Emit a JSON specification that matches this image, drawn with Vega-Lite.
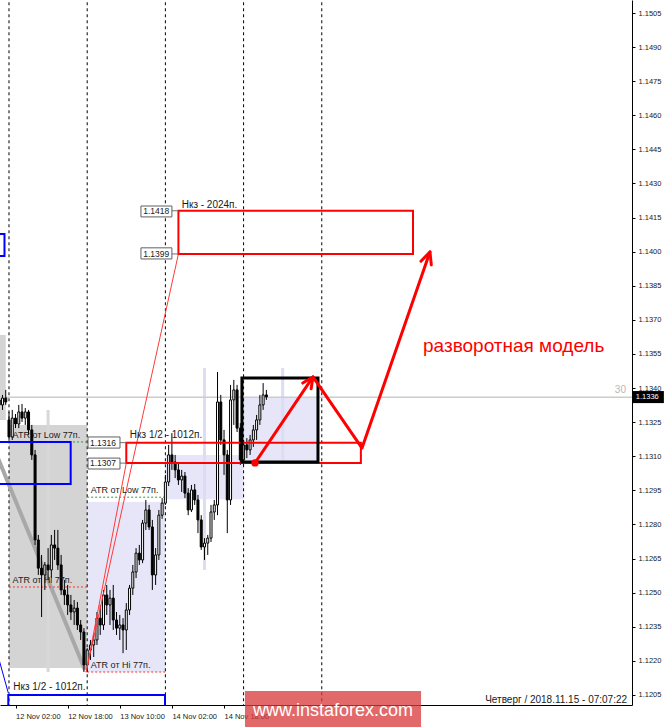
{
"$schema": "https://vega.github.io/schema/vega-lite/v6.json",
"width": 632, "height": 705, "autosize": {"type": "none"}, "padding": {"left": 0, "top": 0, "right": 33, "bottom": 22},
"background": "white",
"config": {"view": {"stroke": null}, "font": "Liberation Sans"},
"datasets": {
"candles": [
{"t":"2018-11-11T21:00Z","o":1.13348,"h":1.13383,"l":1.13295,"c":1.13326},
{"t":"2018-11-11T22:00Z","o":1.13326,"h":1.1337,"l":1.13304,"c":1.13356},
{"t":"2018-11-11T23:00Z","o":1.13356,"h":1.13392,"l":1.13326,"c":1.13339},
{"t":"2018-11-12T00:00Z","o":1.1326,"h":1.13295,"l":1.13172,"c":1.13185},
{"t":"2018-11-12T01:00Z","o":1.13185,"h":1.13304,"l":1.13172,"c":1.13268},
{"t":"2018-11-12T02:00Z","o":1.13268,"h":1.13286,"l":1.13224,"c":1.13242},
{"t":"2018-11-12T03:00Z","o":1.13242,"h":1.13326,"l":1.13224,"c":1.13295},
{"t":"2018-11-12T04:00Z","o":1.13295,"h":1.1333,"l":1.13251,"c":1.13268},
{"t":"2018-11-12T05:00Z","o":1.13268,"h":1.13312,"l":1.13238,"c":1.13295},
{"t":"2018-11-12T06:00Z","o":1.13295,"h":1.13304,"l":1.13194,"c":1.13216},
{"t":"2018-11-12T07:00Z","o":1.13216,"h":1.13238,"l":1.13084,"c":1.13106},
{"t":"2018-11-12T08:00Z","o":1.13106,"h":1.13128,"l":1.1271,"c":1.12732},
{"t":"2018-11-12T09:00Z","o":1.12732,"h":1.12754,"l":1.12578,"c":1.12608},
{"t":"2018-11-12T10:00Z","o":1.12608,"h":1.12666,"l":1.12393,"c":1.12578},
{"t":"2018-11-12T11:00Z","o":1.12578,"h":1.12635,"l":1.12512,"c":1.12622},
{"t":"2018-11-12T12:00Z","o":1.12622,"h":1.12696,"l":1.12556,"c":1.126},
{"t":"2018-11-12T13:00Z","o":1.126,"h":1.12754,"l":1.12564,"c":1.1271},
{"t":"2018-11-12T14:00Z","o":1.1271,"h":1.12776,"l":1.12644,"c":1.12696},
{"t":"2018-11-12T15:00Z","o":1.12696,"h":1.12776,"l":1.126,"c":1.12622},
{"t":"2018-11-12T16:00Z","o":1.12622,"h":1.12666,"l":1.1249,"c":1.12512},
{"t":"2018-11-12T17:00Z","o":1.12512,"h":1.12556,"l":1.12446,"c":1.1249},
{"t":"2018-11-12T18:00Z","o":1.1249,"h":1.12534,"l":1.12402,"c":1.12446},
{"t":"2018-11-12T19:00Z","o":1.12446,"h":1.1249,"l":1.1238,"c":1.12415},
{"t":"2018-11-12T20:00Z","o":1.12415,"h":1.12468,"l":1.12358,"c":1.12432},
{"t":"2018-11-12T21:00Z","o":1.12432,"h":1.12459,"l":1.12336,"c":1.12358},
{"t":"2018-11-12T22:00Z","o":1.12358,"h":1.1238,"l":1.12292,"c":1.12327},
{"t":"2018-11-12T23:00Z","o":1.12327,"h":1.12344,"l":1.12151,"c":1.12182},
{"t":"2018-11-13T00:00Z","o":1.12182,"h":1.12256,"l":1.12151,"c":1.12248},
{"t":"2018-11-13T01:00Z","o":1.12248,"h":1.12292,"l":1.12204,"c":1.1227},
{"t":"2018-11-13T02:00Z","o":1.1227,"h":1.12314,"l":1.12217,"c":1.12292},
{"t":"2018-11-13T03:00Z","o":1.12292,"h":1.12415,"l":1.1227,"c":1.12388},
{"t":"2018-11-13T04:00Z","o":1.12388,"h":1.12446,"l":1.12314,"c":1.12358},
{"t":"2018-11-13T05:00Z","o":1.12358,"h":1.12512,"l":1.12336,"c":1.1249},
{"t":"2018-11-13T06:00Z","o":1.1249,"h":1.12534,"l":1.12402,"c":1.12446},
{"t":"2018-11-13T07:00Z","o":1.12446,"h":1.12512,"l":1.12358,"c":1.12476},
{"t":"2018-11-13T08:00Z","o":1.12476,"h":1.12534,"l":1.12336,"c":1.1238},
{"t":"2018-11-13T09:00Z","o":1.1238,"h":1.12415,"l":1.12314,"c":1.12344},
{"t":"2018-11-13T10:00Z","o":1.12344,"h":1.12402,"l":1.12292,"c":1.12358},
{"t":"2018-11-13T11:00Z","o":1.12358,"h":1.12388,"l":1.12234,"c":1.12336},
{"t":"2018-11-13T12:00Z","o":1.12336,"h":1.12454,"l":1.12248,"c":1.12424},
{"t":"2018-11-13T13:00Z","o":1.12424,"h":1.12534,"l":1.12402,"c":1.1252},
{"t":"2018-11-13T14:00Z","o":1.1252,"h":1.12622,"l":1.1249,"c":1.12591},
{"t":"2018-11-13T15:00Z","o":1.12591,"h":1.12696,"l":1.12564,"c":1.12674},
{"t":"2018-11-13T16:00Z","o":1.12674,"h":1.1271,"l":1.12622,"c":1.12644},
{"t":"2018-11-13T17:00Z","o":1.12644,"h":1.1282,"l":1.1263,"c":1.12806},
{"t":"2018-11-13T18:00Z","o":1.12806,"h":1.12908,"l":1.12776,"c":1.12864},
{"t":"2018-11-13T19:00Z","o":1.12864,"h":1.12886,"l":1.12776,"c":1.12789},
{"t":"2018-11-13T20:00Z","o":1.12789,"h":1.1282,"l":1.12512,"c":1.12578},
{"t":"2018-11-13T21:00Z","o":1.12578,"h":1.12696,"l":1.12534,"c":1.12666},
{"t":"2018-11-13T22:00Z","o":1.12666,"h":1.12864,"l":1.12644,"c":1.12841},
{"t":"2018-11-13T23:00Z","o":1.12841,"h":1.12916,"l":1.12825,"c":1.12894},
{"t":"2018-11-14T00:00Z","o":1.12894,"h":1.13018,"l":1.12886,"c":1.12987},
{"t":"2018-11-14T01:00Z","o":1.12987,"h":1.1315,"l":1.12969,"c":1.13106},
{"t":"2018-11-14T02:00Z","o":1.13106,"h":1.13202,"l":1.1304,"c":1.13075},
{"t":"2018-11-14T03:00Z","o":1.13075,"h":1.13106,"l":1.13004,"c":1.1304},
{"t":"2018-11-14T04:00Z","o":1.1304,"h":1.13075,"l":1.12974,"c":1.12996},
{"t":"2018-11-14T05:00Z","o":1.12996,"h":1.1304,"l":1.12943,"c":1.13013},
{"t":"2018-11-14T06:00Z","o":1.13013,"h":1.13031,"l":1.12916,"c":1.12938},
{"t":"2018-11-14T07:00Z","o":1.12938,"h":1.1296,"l":1.12841,"c":1.12864},
{"t":"2018-11-14T08:00Z","o":1.12864,"h":1.12974,"l":1.12855,"c":1.12952},
{"t":"2018-11-14T09:00Z","o":1.12952,"h":1.12978,"l":1.12886,"c":1.12908},
{"t":"2018-11-14T10:00Z","o":1.12908,"h":1.1293,"l":1.12762,"c":1.1282},
{"t":"2018-11-14T11:00Z","o":1.1282,"h":1.12841,"l":1.12688,"c":1.12701},
{"t":"2018-11-14T12:00Z","o":1.12701,"h":1.1274,"l":1.12644,"c":1.12718},
{"t":"2018-11-14T13:00Z","o":1.12718,"h":1.12754,"l":1.12666,"c":1.1274},
{"t":"2018-11-14T14:00Z","o":1.1274,"h":1.12886,"l":1.12723,"c":1.12855},
{"t":"2018-11-14T15:00Z","o":1.12855,"h":1.12908,"l":1.1282,"c":1.12886},
{"t":"2018-11-14T16:00Z","o":1.12886,"h":1.13471,"l":1.12841,"c":1.13339},
{"t":"2018-11-14T17:00Z","o":1.13339,"h":1.1337,"l":1.1315,"c":1.13172},
{"t":"2018-11-14T18:00Z","o":1.13172,"h":1.13216,"l":1.13018,"c":1.13106},
{"t":"2018-11-14T19:00Z","o":1.13106,"h":1.13128,"l":1.12762,"c":1.12908},
{"t":"2018-11-14T20:00Z","o":1.12908,"h":1.13414,"l":1.12886,"c":1.13348},
{"t":"2018-11-14T21:00Z","o":1.13348,"h":1.13436,"l":1.13238,"c":1.13392},
{"t":"2018-11-14T22:00Z","o":1.13392,"h":1.13414,"l":1.13207,"c":1.13224},
{"t":"2018-11-14T23:00Z","o":1.13224,"h":1.13246,"l":1.13062,"c":1.13084},
{"t":"2018-11-15T00:00Z","o":1.13084,"h":1.13172,"l":1.13062,"c":1.1315},
{"t":"2018-11-15T01:00Z","o":1.1315,"h":1.1318,"l":1.13092,"c":1.13128},
{"t":"2018-11-15T02:00Z","o":1.13128,"h":1.13194,"l":1.13106,"c":1.13172},
{"t":"2018-11-15T03:00Z","o":1.13172,"h":1.13238,"l":1.13141,"c":1.13216},
{"t":"2018-11-15T04:00Z","o":1.13216,"h":1.13282,"l":1.13172,"c":1.1326},
{"t":"2018-11-15T05:00Z","o":1.1326,"h":1.1337,"l":1.13238,"c":1.13326},
{"t":"2018-11-15T06:00Z","o":1.13326,"h":1.13422,"l":1.13304,"c":1.1337},
{"t":"2018-11-15T07:00Z","o":1.1337,"h":1.13392,"l":1.13348,"c":1.13361}
],
"gray": [
{"t":"2018-11-11T06:00Z","t2":"2018-11-11T23:00Z","p":1.13634,"p2":1.1326},
{"t":"2018-11-12T00:00Z","t2":"2018-11-13T00:00Z","p":1.13238,"p2":1.12169}
],
"lav": [
{"t":"2018-11-13T00:00Z","t2":"2018-11-14T00:00Z","p":1.12899,"p2":1.12151},
{"t":"2018-11-14T00:00Z","t2":"2018-11-15T00:00Z","p":1.13106,"p2":1.12911},
{"t":"2018-11-15T00:00Z","t2":"2018-11-15T22:30Z","p":1.13356,"p2":1.13075}
],
"grayBand": [{"t":"2018-11-12T12:00Z","p":1.13304,"p2":1.12151}],
"lavBand": [
{"t":"2018-11-14T12:00Z","p":1.13488,"p2":1.126},
{"t":"2018-11-15T12:00Z","p":1.13488,"p2":1.13075}
],
"bid": [{"t":"2018-11-11T20:00Z","t2":"2018-11-20T00:00Z","p":1.1336}],
"days": [
{"t":"2018-11-12T00:00Z","p":1.1515,"p2":1.1195},
{"t":"2018-11-13T00:00Z","p":1.1515,"p2":1.1195},
{"t":"2018-11-14T00:00Z","p":1.1515,"p2":1.1195},
{"t":"2018-11-15T00:00Z","p":1.1515,"p2":1.1195},
{"t":"2018-11-16T00:00Z","p":1.1515,"p2":1.1195}
],
"trend": [{"t":"2018-11-11T12:02Z","p":1.13392},{"t":"2018-11-12T23:20Z","p":1.1216}],
"atrLow": [
{"t":"2018-11-12T00:00Z","t2":"2018-11-13T00:00Z","p":1.13163},
{"t":"2018-11-13T00:00Z","t2":"2018-11-14T00:00Z","p":1.1292}
],
"atrHi": [
{"t":"2018-11-12T00:00Z","t2":"2018-11-13T00:00Z","p":1.12525},
{"t":"2018-11-13T00:00Z","t2":"2018-11-14T00:00Z","p":1.12151}
],
"blue": [
{"t":"2018-11-11T06:00Z","t2":"2018-11-11T22:37Z","p":1.14078,"p2":1.13981},
{"t":"2018-11-11T06:00Z","t2":"2018-11-12T18:56Z","p":1.13163,"p2":1.12978},
{"t":"2018-11-11T23:47Z","t2":"2018-11-13T23:53Z","p":1.1205,"p2":1.119}
],
"blueDiag": [{"t":"2018-11-11T18:10Z","p":1.12349},{"t":"2018-11-11T23:47Z","p":1.12059}],
"redThin": [
{"id":"a","t":"2018-11-12T23:40Z","p":1.1215},{"id":"a","t":"2018-11-14T04:00Z","p":1.1399},
{"id":"b","t":"2018-11-12T23:40Z","p":1.1215},{"id":"b","t":"2018-11-13T12:00Z","p":1.1307}
],
"red": [
{"t":"2018-11-13T12:00Z","t2":"2018-11-16T12:00Z","p":1.1316,"p2":1.1307},
{"t":"2018-11-14T04:00Z","t2":"2018-11-17T04:00Z","p":1.1418,"p2":1.1399}
],
"conn": [
{"t":"2018-11-13T10:04Z","t2":"2018-11-13T12:00Z","p":1.1316},
{"t":"2018-11-13T10:04Z","t2":"2018-11-13T12:00Z","p":1.1307},
{"t":"2018-11-14T02:00Z","t2":"2018-11-14T04:00Z","p":1.1418},
{"t":"2018-11-14T02:00Z","t2":"2018-11-14T04:00Z","p":1.1399}
],
"plBox": [
{"t":"2018-11-13T00:15Z","t2":"2018-11-13T10:04Z","p":1.13185,"p2":1.13136},
{"t":"2018-11-13T00:15Z","t2":"2018-11-13T10:04Z","p":1.13092,"p2":1.13044},
{"t":"2018-11-13T16:30Z","t2":"2018-11-14T02:00Z","p":1.14201,"p2":1.14153},
{"t":"2018-11-13T16:30Z","t2":"2018-11-14T02:00Z","p":1.14017,"p2":1.13968}
],
"plText": [
{"t":"2018-11-13T00:52Z","p":1.1316,"label":"1.1316"},
{"t":"2018-11-13T00:52Z","p":1.1307,"label":"1.1307"},
{"t":"2018-11-13T17:12Z","p":1.1418,"label":"1.1418"},
{"t":"2018-11-13T17:12Z","p":1.1399,"label":"1.1399"}
],
"blackBox": [{"t":"2018-11-14T23:30Z","t2":"2018-11-15T22:50Z","p":1.13444,"p2":1.13075}],
"arrows": [
{"id":"m","k":1,"t":"2018-11-15T03:30Z","p":1.13071},
{"id":"m","k":2,"t":"2018-11-15T21:18Z","p":1.13449},
{"id":"m","k":3,"t":"2018-11-16T12:21Z","p":1.13136},
{"id":"m","k":4,"t":"2018-11-17T09:12Z","p":1.13999},
{"id":"h1","k":1,"t":"2018-11-15T18:09Z","p":1.13422},
{"id":"h1","k":2,"t":"2018-11-15T21:18Z","p":1.13449},
{"id":"h1","k":3,"t":"2018-11-15T20:44Z","p":1.13397},
{"id":"h2","k":1,"t":"2018-11-17T06:26Z","p":1.13958},
{"id":"h2","k":2,"t":"2018-11-17T09:12Z","p":1.13999},
{"id":"h2","k":3,"t":"2018-11-17T09:37Z","p":1.13942}
],
"dot": [{"t":"2018-11-15T03:30Z","p":1.13071}],
"atrTexts": [
{"t":"2018-11-12T01:06Z","p":1.1318,"label":"ATR от Low 77п."},
{"t":"2018-11-12T01:06Z","p":1.12543,"label":"ATR от Hi 77п."},
{"t":"2018-11-13T01:06Z","p":1.12939,"label":"ATR от Low 77п."},
{"t":"2018-11-13T01:06Z","p":1.12169,"label":"ATR от Hi 77п."}
],
"nkzTexts": [
{"t":"2018-11-13T13:06Z","p":1.1318,"label":"Нкз 1/2 - 1012п."},
{"t":"2018-11-12T01:18Z","p":1.12072,"label":"Нкз 1/2 - 1012п."},
{"t":"2018-11-14T05:00Z","p":1.14192,"label":"Нкз - 2024п."}
],
"title": [{"t":"2018-11-17T07:04Z","p":1.13559,"label":"разворотная модель"}],
"stamp": [{"t":"2018-11-19T21:42Z","p":1.12015,"label":"Четверг / 2018.11.15 - 07:07:22"}],
"thirty": [{"t":"2018-11-19T21:22Z","p":1.13378,"label":"30"}],
"bidTag": [{"t":"2018-11-19T23:30Z","t2":"2018-11-20T09:00Z","p":1.13387,"p2":1.13334}],
"bidTagText": [{"t":"2018-11-20T00:24Z","p":1.1336,"label":"1.1336"}],
"wm": [{"t":"2018-11-15T00:26Z","t2":"2018-11-17T06:28Z","p":1.12068,"p2":1.11909}],
"wmText": [{"t":"2018-11-16T03:27Z","p":1.1198,"label":"www.instaforex.com"}]
},
"encoding": {
"x": {"field": "t", "type": "temporal",
  "scale": {"type": "utc", "nice": false, "padding": 0, "domain": [{"year": 2018, "month": 11, "date": 11, "hours": 21, "minutes": 14, "seconds": 17, "utc": true}, {"year": 2018, "month": 11, "date": 19, "hours": 23, "minutes": 13, "utc": true}]},
  "axis": {"orient": "bottom", "title": null, "grid": false,
    "values": [
      {"year": 2018, "month": 11, "date": 12, "hours": 2, "utc": true},
      {"year": 2018, "month": 11, "date": 12, "hours": 18, "utc": true},
      {"year": 2018, "month": 11, "date": 13, "hours": 10, "utc": true},
      {"year": 2018, "month": 11, "date": 14, "hours": 2, "utc": true},
      {"year": 2018, "month": 11, "date": 14, "hours": 18, "utc": true}],
    "format": "%-d %b %H:%M", "labelAlign": "left", "labelBaseline": "top", "labelFont": "Liberation Sans", "labelFontSize": 7.5, "labelColor": "#202020",
    "tickSize": 3, "tickColor": "#000000", "domainColor": "#000000", "labelPadding": 4, "labelFlush": false, "labelOverlap": false}},
"y": {"field": "p", "type": "quantitative",
  "scale": {"domain": [1.120059, 1.151072], "nice": false, "zero": false, "padding": 0},
  "axis": {"orient": "right", "title": null, "grid": false,
    "values": [1.1205, 1.122, 1.1235, 1.125, 1.1265, 1.128, 1.1295, 1.131, 1.1325, 1.134, 1.1355, 1.137, 1.1385, 1.14, 1.1415, 1.143, 1.1445, 1.146, 1.1475, 1.149, 1.1505],
    "format": ".4f", "labelFont": "Liberation Sans", "labelFontSize": 7.5, "labelColor": "#202020",
    "tickSize": 3, "tickColor": "#000000", "domainColor": "#000000", "labelPadding": 3, "labelFlush": false, "labelOverlap": false}}
},
"layer": [
{"data": {"name": "gray"}, "mark": {"type": "rect", "fill": "#d4d4d4", "clip": true}, "encoding": {"x2": {"field": "t2"}, "y2": {"field": "p2"}}},
{"data": {"name": "lav"}, "mark": {"type": "rect", "fill": "#e6e6f8", "clip": true}, "encoding": {"x2": {"field": "t2"}, "y2": {"field": "p2"}}},
{"data": {"name": "grayBand"}, "mark": {"type": "rule", "color": "#d8d8d8", "strokeWidth": 3}, "encoding": {"y2": {"field": "p2"}}},
{"data": {"name": "lavBand"}, "mark": {"type": "rule", "color": "#dcdcf4", "strokeWidth": 3}, "encoding": {"y2": {"field": "p2"}}},
{"data": {"name": "bid"}, "mark": {"type": "rule", "color": "#cccccc", "strokeWidth": 1.5, "clip": true}, "encoding": {"x2": {"field": "t2"}}},
{"data": {"name": "days"}, "mark": {"type": "rule", "color": "#000000", "strokeWidth": 1, "strokeDash": [3, 3], "clip": true}, "encoding": {"y2": {"field": "p2"}}},
{"data": {"name": "trend"}, "mark": {"type": "line", "color": "#a8a8a8", "strokeWidth": 4, "clip": true}, "encoding": {}},
{"data": {"name": "atrLow"}, "mark": {"type": "rule", "color": "#2e9a2e", "strokeWidth": 1, "strokeDash": [2, 2]}, "encoding": {"x2": {"field": "t2"}}},
{"data": {"name": "atrHi"}, "mark": {"type": "rule", "color": "#ff3030", "strokeWidth": 1, "strokeDash": [2, 2]}, "encoding": {"x2": {"field": "t2"}}},
{"data": {"name": "candles"}, "mark": {"type": "rule", "color": "#000000", "strokeWidth": 1, "clip": true},
 "encoding": {"y": {"field": "l", "type": "quantitative", "scale": {"domain": [1.120059, 1.151072], "nice": false, "zero": false, "padding": 0},
   "axis": {"orient": "right", "title": null, "grid": false,
    "values": [1.1205, 1.122, 1.1235, 1.125, 1.1265, 1.128, 1.1295, 1.131, 1.1325, 1.134, 1.1355, 1.137, 1.1385, 1.14, 1.1415, 1.143, 1.1445, 1.146, 1.1475, 1.149, 1.1505],
    "format": ".4f", "labelFont": "Liberation Sans", "labelFontSize": 7.5, "labelColor": "#202020",
    "tickSize": 3, "tickColor": "#000000", "domainColor": "#000000", "labelPadding": 3, "labelFlush": false, "labelOverlap": false}},
  "y2": {"field": "h"}}},
{"data": {"name": "candles"}, "mark": {"type": "bar", "width": 2, "stroke": "#000000", "strokeWidth": 1, "clip": true},
 "encoding": {"y": {"field": "o", "type": "quantitative", "scale": {"domain": [1.120059, 1.151072], "nice": false, "zero": false, "padding": 0},
   "axis": {"orient": "right", "title": null, "grid": false,
    "values": [1.1205, 1.122, 1.1235, 1.125, 1.1265, 1.128, 1.1295, 1.131, 1.1325, 1.134, 1.1355, 1.137, 1.1385, 1.14, 1.1415, 1.143, 1.1445, 1.146, 1.1475, 1.149, 1.1505],
    "format": ".4f", "labelFont": "Liberation Sans", "labelFontSize": 7.5, "labelColor": "#202020",
    "tickSize": 3, "tickColor": "#000000", "domainColor": "#000000", "labelPadding": 3, "labelFlush": false, "labelOverlap": false}},
  "y2": {"field": "c"},
  "fill": {"condition": {"test": "datum.c >= datum.o", "value": "#ffffff"}, "value": "#000000"}}},
{"data": {"name": "blue"}, "mark": {"type": "rect", "fill": "white", "fillOpacity": 0, "stroke": "#0000ff", "strokeWidth": 2, "clip": true}, "encoding": {"x2": {"field": "t2"}, "y2": {"field": "p2"}}},
{"data": {"name": "blueDiag"}, "mark": {"type": "line", "color": "#0000ff", "strokeWidth": 1, "clip": true}, "encoding": {}},
{"data": {"name": "redThin"}, "mark": {"type": "line", "color": "#ff3a3a", "strokeWidth": 1}, "encoding": {"detail": {"field": "id"}}},
{"data": {"name": "red"}, "mark": {"type": "rect", "fill": "white", "fillOpacity": 0, "stroke": "#ff0000", "strokeWidth": 2}, "encoding": {"x2": {"field": "t2"}, "y2": {"field": "p2"}}},
{"data": {"name": "conn"}, "mark": {"type": "rule", "color": "#707070", "strokeWidth": 1}, "encoding": {"x2": {"field": "t2"}}},
{"data": {"name": "plBox"}, "mark": {"type": "rect", "fill": "#ffffff", "stroke": "#606060", "strokeWidth": 1}, "encoding": {"x2": {"field": "t2"}, "y2": {"field": "p2"}}},
{"data": {"name": "plText"}, "mark": {"type": "text", "align": "left", "baseline": "middle", "fontSize": 8.5, "color": "#202020"}, "encoding": {"text": {"field": "label"}}},
{"data": {"name": "blackBox"}, "mark": {"type": "rect", "fill": "white", "fillOpacity": 0, "stroke": "#000000", "strokeWidth": 3}, "encoding": {"x2": {"field": "t2"}, "y2": {"field": "p2"}}},
{"data": {"name": "arrows"}, "mark": {"type": "line", "color": "#ff0000", "strokeWidth": 3, "strokeCap": "round", "strokeJoin": "round"}, "encoding": {"detail": {"field": "id"}, "order": {"field": "k", "type": "quantitative"}}},
{"data": {"name": "dot"}, "mark": {"type": "point", "filled": true, "color": "#ff0000", "size": 55, "opacity": 1}, "encoding": {}},
{"data": {"name": "atrTexts"}, "mark": {"type": "text", "align": "left", "baseline": "alphabetic", "fontSize": 9, "color": "#1a1a1a"}, "encoding": {"text": {"field": "label"}}},
{"data": {"name": "nkzTexts"}, "mark": {"type": "text", "align": "left", "baseline": "alphabetic", "fontSize": 10, "color": "#1a1a1a"}, "encoding": {"text": {"field": "label"}}},
{"data": {"name": "title"}, "mark": {"type": "text", "align": "left", "baseline": "alphabetic", "fontSize": 19, "color": "#ff0000"}, "encoding": {"text": {"field": "label"}}},
{"data": {"name": "stamp"}, "mark": {"type": "text", "align": "right", "baseline": "alphabetic", "fontSize": 10, "color": "#202020"}, "encoding": {"text": {"field": "label"}}},
{"data": {"name": "thirty"}, "mark": {"type": "text", "align": "right", "baseline": "alphabetic", "fontSize": 10, "color": "#b8b8b8"}, "encoding": {"text": {"field": "label"}}},
{"data": {"name": "bidTag"}, "mark": {"type": "rect", "fill": "#000000"}, "encoding": {"x2": {"field": "t2"}, "y2": {"field": "p2"}}},
{"data": {"name": "bidTagText"}, "mark": {"type": "text", "align": "left", "baseline": "middle", "fontSize": 7.5, "color": "#ffffff"}, "encoding": {"text": {"field": "label"}}},
{"data": {"name": "wm"}, "mark": {"type": "rect", "fill": "#d93a3a", "opacity": 0.76}, "encoding": {"x2": {"field": "t2"}, "y2": {"field": "p2"}}},
{"data": {"name": "wmText"}, "mark": {"type": "text", "align": "center", "baseline": "middle", "fontSize": 18, "color": "#ffffff"}, "encoding": {"text": {"field": "label"}}}
]
}
